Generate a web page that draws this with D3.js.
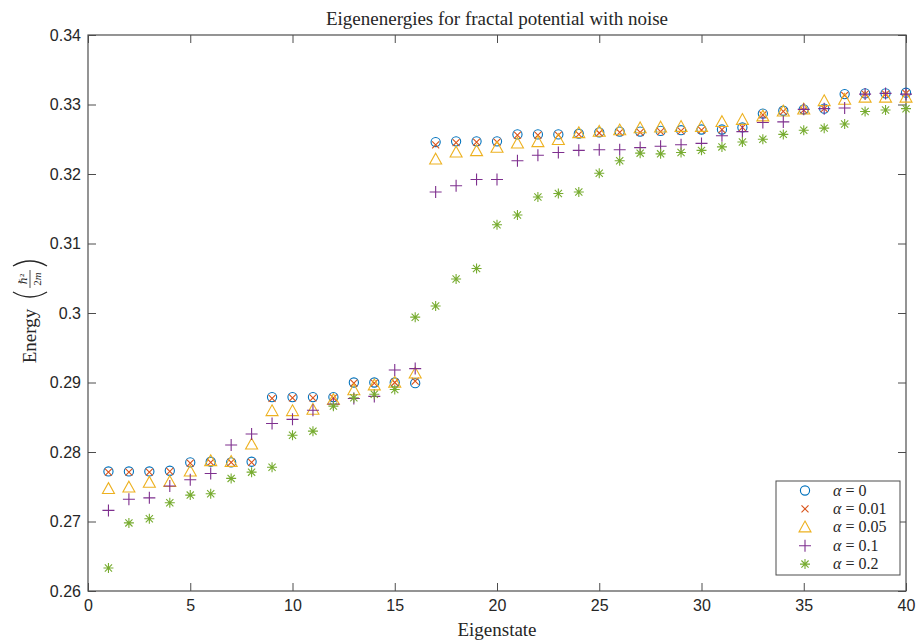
<!DOCTYPE html>
<html>
<head>
<meta charset="utf-8">
<script src="https://cdn.jsdelivr.net/npm/d3@7"></script>
<style>
  body { margin: 0; background: #fff; }
  .tick text { font-family: "Liberation Sans", Arial, sans-serif; font-size: 16px; fill: #262626; }
  .serif { font-family: "Liberation Serif", "DejaVu Serif", serif; fill: #262626; }
</style>
</head>
<body>
<div id="chart"></div>
<script>
// eigenstate index
var states = d3.range(1, 41);

var alphaLabels = ["0", "0.01", "0.05", "0.1", "0.2"];

var e_a0 = [0.2772, 0.2772, 0.2772, 0.2773, 0.2785, 0.2786, 0.2785, 0.2786, 0.2879, 0.2879,
            0.2879, 0.2879, 0.2900, 0.2900, 0.2900, 0.2899, 0.3246, 0.3247, 0.3247, 0.3247,
            0.3257, 0.3257, 0.3257, 0.3258, 0.3260, 0.3261, 0.3261, 0.3262, 0.3263, 0.3264,
            0.3264, 0.3267, 0.3287, 0.3291, 0.3293, 0.3294, 0.3315, 0.3316, 0.3316, 0.3317];
var e_a001 = [0.2771, 0.2771, 0.2771, 0.2772, 0.2784, 0.2785, 0.2785, 0.2785, 0.2877, 0.2878,
              0.2878, 0.2878, 0.2899, 0.2899, 0.2900, 0.2902, 0.3242, 0.3245, 0.3246, 0.3246,
              0.3256, 0.3256, 0.3256, 0.3257, 0.3259, 0.3260, 0.3260, 0.3261, 0.3262, 0.3263,
              0.3264, 0.3267, 0.3285, 0.3290, 0.3292, 0.3294, 0.3313, 0.3315, 0.3315, 0.3316];
var e_a005 = [0.2747, 0.2749, 0.2756, 0.2757, 0.2772, 0.2787, 0.2786, 0.2811, 0.2859, 0.2859,
              0.2861, 0.2875, 0.2889, 0.2896, 0.2900, 0.2913, 0.3221, 0.3231, 0.3233, 0.3238,
              0.3244, 0.3246, 0.3249, 0.3259, 0.3261, 0.3263, 0.3266, 0.3267, 0.3268, 0.3268,
              0.3275, 0.3278, 0.3283, 0.3290, 0.3293, 0.3305, 0.3307, 0.3310, 0.3310, 0.3310];
var e_a01 = [0.2716, 0.2732, 0.2734, 0.2751, 0.2760, 0.2769, 0.2810, 0.2826, 0.2841, 0.2847,
             0.2860, 0.2869, 0.2877, 0.2880, 0.2918, 0.2920, 0.3174, 0.3183, 0.3192, 0.3192,
             0.3219, 0.3227, 0.3231, 0.3234, 0.3235, 0.3235, 0.3238, 0.3240, 0.3242, 0.3244,
             0.3255, 0.3261, 0.3274, 0.3275, 0.3293, 0.3294, 0.3295, 0.3315, 0.3316, 0.3315];
var e_a02 = [0.2633, 0.2698, 0.2704, 0.2727, 0.2738, 0.2740, 0.2762, 0.2771, 0.2778, 0.2824,
             0.2830, 0.2866, 0.2878, 0.2883, 0.2890, 0.2994, 0.3010, 0.3049, 0.3064, 0.3127,
             0.3141, 0.3167, 0.3172, 0.3174, 0.3201, 0.3219, 0.3230, 0.3229, 0.3231, 0.3234,
             0.3239, 0.3246, 0.3250, 0.3257, 0.3263, 0.3266, 0.3272, 0.3290, 0.3292, 0.3294];

var xTicks = [0, 5, 10, 15, 20, 25, 30, 35, 40];
var yTicks = [0.26, 0.27, 0.28, 0.29, 0.3, 0.31, 0.32, 0.33, 0.34];

var colors = ["#0072BD", "#D95319", "#EDB120", "#7E2F8E", "#77AC30"];
var markers = ["circle", "x", "triangle", "plus", "star"];
var series = [e_a0, e_a001, e_a005, e_a01, e_a02];

var W = 919, H = 644;
var plotL = 88, plotR = 906, plotT = 35, plotB = 591;

var svg = d3.select("#chart").append("svg")
    .attr("width", W).attr("height", H);

var x = d3.scaleLinear().domain([0, 40]).range([plotL, plotR]);
var y = d3.scaleLinear().domain([0.26, 0.34]).range([plotB, plotT]);

// marker paths (unfilled, MATLAB style)
function markerPath(type) {
    if (type == "circle") return d3.symbol().type(d3.symbolCircle).size(Math.PI * 4.6 * 4.6)();
    if (type == "x") return "M-3.5,-3.5L3.5,3.5M-3.5,3.5L3.5,-3.5";
    if (type == "triangle") return "M0,-6.2L6,4.6L-6,4.6Z";
    if (type == "plus") return "M-6,0L6,0M0,-6L0,6";
    if (type == "star") {
        var r = 5, d = 3.6;
        return "M-" + r + ",0L" + r + ",0M0,-" + r + "L0," + r +
               "M-" + d + ",-" + d + "L" + d + "," + d + "M-" + d + "," + d + "L" + d + ",-" + d;
    }
}

// axes with inward ticks
var axColor = "#4d4d4d";
function styleAxis(g) {
    g.select(".domain").remove();
    g.selectAll(".tick line").attr("stroke", axColor);
}
svg.append("g").attr("transform", "translate(0," + plotB + ")")
    .call(d3.axisBottom(x).tickValues(xTicks).tickSizeInner(-8).tickSizeOuter(0).tickPadding(9))
    .call(styleAxis);
svg.append("g").attr("transform", "translate(0," + plotT + ")")
    .call(d3.axisTop(x).tickValues(xTicks).tickSizeInner(-8).tickSizeOuter(0).tickFormat(""))
    .call(styleAxis);
svg.append("g").attr("transform", "translate(" + plotL + ",0)")
    .call(d3.axisLeft(y).tickValues(yTicks).tickSizeInner(-8).tickSizeOuter(0).tickPadding(7)
          .tickFormat(function(d) { return d3.format("")(+d.toFixed(2)); }))
    .call(styleAxis);
svg.append("g").attr("transform", "translate(" + plotR + ",0)")
    .call(d3.axisRight(y).tickValues(yTicks).tickSizeInner(-8).tickSizeOuter(0).tickFormat(""))
    .call(styleAxis);

svg.append("rect")
    .attr("x", plotL).attr("y", plotT)
    .attr("width", plotR - plotL).attr("height", plotB - plotT)
    .attr("fill", "none").attr("stroke", axColor).attr("stroke-width", 1.2);

// data markers
series.forEach(function(vals, i) {
    svg.append("g").selectAll("path")
        .data(vals)
        .enter().append("path")
        .attr("d", markerPath(markers[i]))
        .attr("transform", function(d, j) { return "translate(" + x(states[j]) + "," + y(d) + ")"; })
        .attr("fill", "none")
        .attr("stroke", colors[i])
        .attr("stroke-width", 1.1);
});

// title and labels
svg.append("text").attr("class", "serif")
    .attr("x", (plotL + plotR) / 2).attr("y", 25)
    .attr("text-anchor", "middle").style("font-size", "19px")
    .text("Eigenenergies for fractal potential with noise");

svg.append("text").attr("class", "serif")
    .attr("x", (plotL + plotR) / 2).attr("y", 636)
    .attr("text-anchor", "middle").style("font-size", "19px")
    .text("Eigenstate");

var yl = svg.append("g").attr("transform", "translate(30,313) rotate(-90)");
yl.append("text").attr("class", "serif")
    .attr("x", -23).attr("y", 6)
    .attr("text-anchor", "middle").style("font-size", "19px")
    .text("Energy");
// (hbar^2 / 2m)
yl.append("path").attr("d", "M21,-17 Q11,0 21,17").attr("fill", "none").attr("stroke", "#262626").attr("stroke-width", 1.3);
yl.append("path").attr("d", "M47,-17 Q57,0 47,17").attr("fill", "none").attr("stroke", "#262626").attr("stroke-width", 1.3);
yl.append("text").attr("class", "serif")
    .attr("x", 34).attr("y", -3).attr("text-anchor", "middle").style("font-size", "11px")
    .text("ℏ²");
yl.append("line").attr("x1", 25).attr("x2", 43).attr("y1", 0).attr("y2", 0)
    .attr("stroke", "#262626").attr("stroke-width", 0.8);
yl.append("text").attr("class", "serif")
    .attr("x", 34).attr("y", 11).attr("text-anchor", "middle").style("font-size", "11px")
    .html("2<tspan font-style='italic'>m</tspan>");

// legend
var lg = svg.append("g");
lg.append("rect").attr("x", 776).attr("y", 481).attr("width", 124).attr("height", 94)
    .attr("fill", "#fff").attr("stroke", axColor).attr("stroke-width", 1);
alphaLabels.forEach(function(lab, i) {
    var ly = 490.5 + i * 18.4;
    lg.append("path").attr("d", markerPath(markers[i]))
        .attr("transform", "translate(805," + ly + ")")
        .attr("fill", "none").attr("stroke", colors[i]).attr("stroke-width", 1.1);
    var t = lg.append("text").attr("class", "serif")
        .attr("x", 833).attr("y", ly + 5).style("font-size", "16px");
    t.append("tspan").attr("font-style", "italic").text("α");
    t.append("tspan").text(" = " + lab);
});
</script>
</body>
</html>
